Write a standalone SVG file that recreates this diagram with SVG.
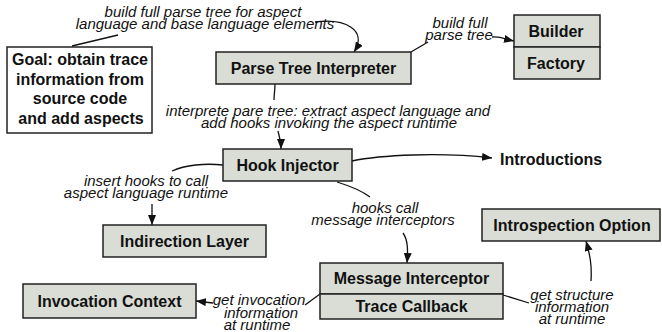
<svg xmlns="http://www.w3.org/2000/svg" width="662" height="332" viewBox="0 0 662 332">
  <defs>
    <marker id="arrow" viewBox="0 0 10 8" refX="10" refY="4" markerWidth="10" markerHeight="8" markerUnits="userSpaceOnUse" orient="auto">
      <path d="M0,0 L10,4 L0,8 Z" fill="#111"/>
    </marker>
    <style>
      .box { fill: #d9ddd5; stroke: #222; stroke-width: 1.5; }
      .plain { fill: #fff; stroke: #222; stroke-width: 1.5; }
      .name { font-family: "Liberation Sans", Arial, sans-serif; font-weight: bold; font-size: 16px; fill: #111; text-anchor: middle; }
      .label { font-family: "Liberation Sans", Arial, sans-serif; font-style: italic; font-size: 15px; fill: #111; text-anchor: middle; }
      .edge { fill: none; stroke: #111; stroke-width: 1.3; }
      .arr { marker-end: url(#arrow); }
    </style>
  </defs>

  <rect width="662" height="332" fill="#fff"/>

  <!-- connectors and their labels -->
  <g id="connectors">
    <!-- goal -> parse tree interpreter -->
    <path class="edge" d="M72,46 L118,35"/>
    <path class="edge arr" d="M315,22 C345,18 368,30 354,52"/>
    <text class="label" x="203" y="17">build full parse tree for aspect</text>
    <text class="label" x="205" y="29">language and base language elements</text>

    <!-- parse tree interpreter -> builder -->
    <path class="edge" d="M411,52 L428,42"/>
    <path class="edge arr" d="M492,37 C500,36 505,39 514,41"/>
    <text class="label" x="460" y="28">build full</text>
    <text class="label" x="459" y="40">parse tree</text>

    <!-- parse tree interpreter -> hook injector -->
    <path class="edge" d="M275,84 C275,90 274,95 274,100"/>
    <path class="edge arr" d="M278,131 C279,136 281,140 281,149"/>
    <text class="label" x="328" y="116">interprete pare tree: extract aspect language and</text>
    <text class="label" x="329" y="128">add hooks invoking the aspect runtime</text>

    <!-- hook injector -> introductions -->
    <path class="edge arr" d="M352,161 C380,155 440,152 492,158"/>

    <!-- hook injector -> indirection layer -->
    <path class="edge" d="M223,165 C205,163 185,165 172,171"/>
    <path class="edge arr" d="M152,204 L152,225"/>
    <text class="label" x="146" y="186">insert hooks to call</text>
    <text class="label" x="146" y="198">aspect language runtime</text>

    <!-- hook injector -> message interceptor -->
    <path class="edge" d="M337,182 C350,186 362,191 370,197"/>
    <path class="edge arr" d="M403,233 C408,240 408,250 407,263"/>
    <text class="label" x="385" y="213">hooks call</text>
    <text class="label" x="383" y="225">message interceptors</text>

    <!-- trace callback -> invocation context -->
    <path class="edge" d="M320,294 L305,305"/>
    <path class="edge arr" d="M213,303 L196,301"/>
    <text class="label" x="259" y="305">get invocation</text>
    <text class="label" x="261" y="318">information</text>
    <text class="label" x="257" y="330">at runtime</text>

    <!-- trace callback -> introspection option -->
    <path class="edge" d="M503,295 L529,303"/>
    <path class="edge arr" d="M591,281 C592,265 590,255 586,241"/>
    <text class="label" x="572" y="300">get structure</text>
    <text class="label" x="572" y="312">information</text>
    <text class="label" x="572" y="324">at runtime</text>
  </g>

  <g id="goal">
    <rect class="plain" x="7" y="47" width="145" height="86"/>
    <text class="name" x="80" y="65">Goal: obtain trace</text>
    <text class="name" x="80" y="85">information from</text>
    <text class="name" x="80" y="104">source code</text>
    <text class="name" x="81" y="124">and add aspects</text>
  </g>

  <g id="parse-tree-interpreter">
    <rect class="box" x="216" y="52" width="195" height="32"/>
    <text class="name" x="313.5" y="74">Parse Tree Interpreter</text>
  </g>

  <g id="builder-factory">
    <rect class="box" x="514" y="15" width="86" height="32"/>
    <rect class="box" x="514" y="47" width="86" height="32"/>
    <text class="name" x="556" y="37">Builder</text>
    <text class="name" x="556" y="69">Factory</text>
  </g>

  <g id="hook-injector">
    <rect class="box" x="223" y="149" width="129" height="32"/>
    <text class="name" x="287.5" y="171">Hook Injector</text>
  </g>

  <g id="introductions">
    <text class="name" x="500" y="165" style="text-anchor:start">Introductions</text>
  </g>

  <g id="indirection-layer">
    <rect class="box" x="103" y="225" width="163" height="32"/>
    <text class="name" x="184.5" y="247">Indirection Layer</text>
  </g>

  <g id="introspection-option">
    <rect class="box" x="482" y="209" width="178" height="32"/>
    <text class="name" x="572" y="231">Introspection Option</text>
  </g>

  <g id="message-interceptor">
    <rect class="box" x="320" y="263" width="183" height="31"/>
    <rect class="box" x="320" y="294" width="183" height="25"/>
    <text class="name" x="411.5" y="284">Message Interceptor</text>
    <text class="name" x="411.5" y="312">Trace Callback</text>
  </g>

  <g id="invocation-context">
    <rect class="box" x="23" y="284" width="173" height="34"/>
    <text class="name" x="109.5" y="307">Invocation Context</text>
  </g>
</svg>
